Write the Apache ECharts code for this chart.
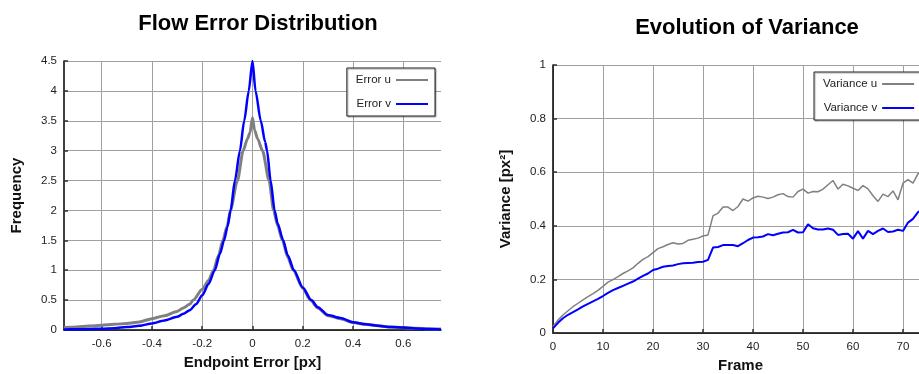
<!DOCTYPE html>
<html>
<head>
<meta charset="utf-8">
<script src="https://cdn.jsdelivr.net/npm/echarts@6/dist/echarts.min.js"></script>
<style>
html,body{margin:0;padding:0;background:#fff;overflow:hidden;}
#c{width:919px;height:374px;}
</style>
</head>
<body>
<div id="c"></div>
<script>
// Left chart: Flow Error Distribution  [x (px), frequency]
var errorU = [[-0.75,0.04],[-0.7,0.05],[-0.65,0.065],[-0.6,0.08],[-0.55,0.095],[-0.5,0.11],[-0.45,0.135],[-0.4,0.19],[-0.35,0.24],[-0.3,0.31],[-0.275,0.37],[-0.25,0.43],[-0.236,0.5],[-0.2,0.68],[-0.175,0.83],[-0.155,1.0],[-0.135,1.25],[-0.118,1.5],[-0.1,1.75],[-0.088,2.0],[-0.06,2.5],[-0.037,3.0],[-0.02,3.2],[-0.01,3.3],[0,3.55],[0.008,3.35],[0.02,3.2],[0.04,3.0],[0.066,2.5],[0.084,2.0],[0.1,1.75],[0.119,1.5],[0.14,1.22],[0.162,1.0],[0.2,0.7],[0.23,0.5],[0.26,0.37],[0.3,0.24],[0.35,0.19],[0.4,0.125],[0.45,0.095],[0.5,0.07],[0.55,0.05],[0.6,0.04],[0.65,0.03],[0.7,0.02],[0.75,0.015]];
var errorV = [[-0.75,0.01],[-0.7,0.012],[-0.65,0.016],[-0.6,0.022],[-0.55,0.03],[-0.5,0.05],[-0.45,0.07],[-0.4,0.11],[-0.35,0.16],[-0.3,0.22],[-0.275,0.27],[-0.25,0.33],[-0.225,0.43],[-0.2,0.58],[-0.175,0.77],[-0.15,1.0],[-0.13,1.27],[-0.113,1.5],[-0.1,1.72],[-0.087,2.0],[-0.07,2.5],[-0.05,3.0],[-0.033,3.5],[-0.015,4.0],[0,4.5],[0.012,4.0],[0.033,3.5],[0.05,3.15],[0.058,3.0],[0.072,2.5],[0.088,2.0],[0.1,1.78],[0.122,1.5],[0.14,1.25],[0.165,1.0],[0.2,0.71],[0.234,0.5],[0.26,0.38],[0.3,0.25],[0.35,0.2],[0.4,0.13],[0.45,0.095],[0.5,0.07],[0.55,0.05],[0.6,0.04],[0.65,0.025],[0.7,0.015],[0.75,0.01]];
var errorTicks = [-0.6,-0.4,-0.2,0,0.2,0.4,0.6];

// Right chart: Evolution of Variance, one value per frame (0..75)
var frames = [];
for (var f = 0; f <= 75; f++) frames.push(f);
var varianceU = [0.024,0.048,0.067,0.083,0.098,0.111,0.124,0.136,0.147,0.159,0.174,0.19,0.199,0.21,0.222,0.232,0.243,0.26,0.275,0.285,0.3,0.315,0.322,0.33,0.337,0.332,0.334,0.346,0.35,0.354,0.362,0.366,0.437,0.447,0.47,0.47,0.457,0.472,0.5,0.492,0.504,0.51,0.507,0.502,0.507,0.516,0.52,0.509,0.507,0.528,0.537,0.522,0.528,0.527,0.537,0.553,0.569,0.537,0.555,0.549,0.54,0.532,0.55,0.538,0.512,0.491,0.518,0.509,0.53,0.497,0.559,0.572,0.559,0.594,0.6,0.59];
var varianceV = [0.017,0.038,0.055,0.068,0.078,0.088,0.099,0.109,0.118,0.127,0.138,0.15,0.16,0.168,0.176,0.184,0.192,0.203,0.213,0.222,0.235,0.24,0.247,0.25,0.252,0.257,0.26,0.261,0.262,0.265,0.266,0.273,0.319,0.321,0.328,0.328,0.328,0.324,0.335,0.347,0.356,0.357,0.36,0.369,0.365,0.37,0.375,0.376,0.385,0.375,0.376,0.406,0.391,0.386,0.386,0.39,0.385,0.366,0.369,0.37,0.352,0.38,0.352,0.381,0.369,0.381,0.39,0.377,0.379,0.385,0.381,0.412,0.426,0.451,0.46,0.47];

var FONT = 'Liberation Sans, Arial, sans-serif';
var gridColor = '#a0a0a0';
function xAxisBase(extra){
  return Object.assign({
    type:'value',
    axisLine:{show:true,onZero:false,lineStyle:{color:'#000',width:1.5}},
    axisTick:{show:true,inside:true,length:4,lineStyle:{color:'#333',width:1.5}},
    axisLabel:{color:'#222',fontSize:11.5,fontFamily:FONT,margin:8},
    splitLine:{show:true,lineStyle:{color:gridColor,width:1}},
    nameLocation:'middle',nameGap:25,
    nameTextStyle:{color:'#111',fontSize:15,fontWeight:'bold',fontFamily:FONT}
  }, extra);
}
function yAxisBase(extra){
  return Object.assign({
    type:'value',
    axisLine:{show:true,onZero:false,lineStyle:{color:'#000',width:1.5}},
    axisTick:{show:true,inside:true,length:4,lineStyle:{color:'#333',width:1.5}},
    axisLabel:{color:'#222',fontSize:11.5,fontFamily:FONT,margin:7},
    splitLine:{show:true,lineStyle:{color:gridColor,width:1}},
    nameLocation:'middle',nameGap:40,
    nameTextStyle:{color:'#111',fontSize:15,fontWeight:'bold',fontFamily:FONT}
  }, extra);
}
var legendBase = {
  orient:'vertical', align:'right', icon:'rect', itemWidth:32, itemHeight:2, itemGap:12,
  padding:[6,7,6,9], backgroundColor:'#fff', borderColor:'#222', borderWidth:1,
  shadowColor:'rgba(0,0,0,0.35)', shadowBlur:1, shadowOffsetX:1, shadowOffsetY:1,
  textStyle:{color:'#222',fontSize:11.5,fontFamily:FONT}
};

var chart = echarts.init(document.getElementById('c'), null, {renderer:'canvas'});
chart.setOption({
  animation:false,
  backgroundColor:'#fff',
  title:[
    {text:'Flow Error Distribution',left:253,top:8,textAlign:'center',
     textStyle:{fontSize:22,fontWeight:'bold',color:'#000',fontFamily:FONT}},
    {text:'Evolution of Variance',left:742,top:12,textAlign:'center',
     textStyle:{fontSize:22,fontWeight:'bold',color:'#000',fontFamily:FONT}}
  ],
  legend:[
    Object.assign({}, legendBase, {right:484, top:68, data:['Error u','Error v']}),
    Object.assign({}, legendBase, {left:814, top:72, data:['Variance u','Variance v']})
  ],
  grid:[
    {left:64, top:61, right:478, bottom:44, outerBoundsMode:'none', containLabel:false},
    {left:553, top:65, right:-9, bottom:41, outerBoundsMode:'none', containLabel:false}
  ],
  xAxis:[
    xAxisBase({gridIndex:0,min:-0.75,max:0.75,name:'Endpoint Error [px]',
      axisTick:{show:true,inside:true,length:4,customValues:errorTicks,lineStyle:{color:'#333',width:1.5}},
      axisLabel:{color:'#222',fontSize:11.5,fontFamily:FONT,margin:8,customValues:errorTicks}}),
    xAxisBase({gridIndex:1,min:0,max:75,interval:10,name:'Frame'})
  ],
  yAxis:[
    yAxisBase({gridIndex:0,min:0,max:4.5,interval:0.5,name:'Frequency'}),
    yAxisBase({gridIndex:1,min:0,max:1,interval:0.2,name:'Variance [px²]'})
  ],
  series:[
    {name:'Error u',type:'line',xAxisIndex:0,yAxisIndex:0,data:errorU,showSymbol:false,
     smooth:0.25,smoothMonotone:'x',
     itemStyle:{color:'#808080'},lineStyle:{color:'#808080',width:3}},
    {name:'Error v',type:'line',xAxisIndex:0,yAxisIndex:0,data:errorV,showSymbol:false,
     smooth:0.25,smoothMonotone:'x',
     itemStyle:{color:'#0000ff'},lineStyle:{color:'#0000ff',width:2.5}},
    {name:'Variance u',type:'line',xAxisIndex:1,yAxisIndex:1,
     data:frames.map(function(f,i){return [f,varianceU[i]];}),showSymbol:false,
     itemStyle:{color:'#808080'},lineStyle:{color:'#808080',width:1.5}},
    {name:'Variance v',type:'line',xAxisIndex:1,yAxisIndex:1,
     data:frames.map(function(f,i){return [f,varianceV[i]];}),showSymbol:false,
     itemStyle:{color:'#0000ff'},lineStyle:{color:'#0000ff',width:2}}
  ]
});
</script>
</body>
</html>
